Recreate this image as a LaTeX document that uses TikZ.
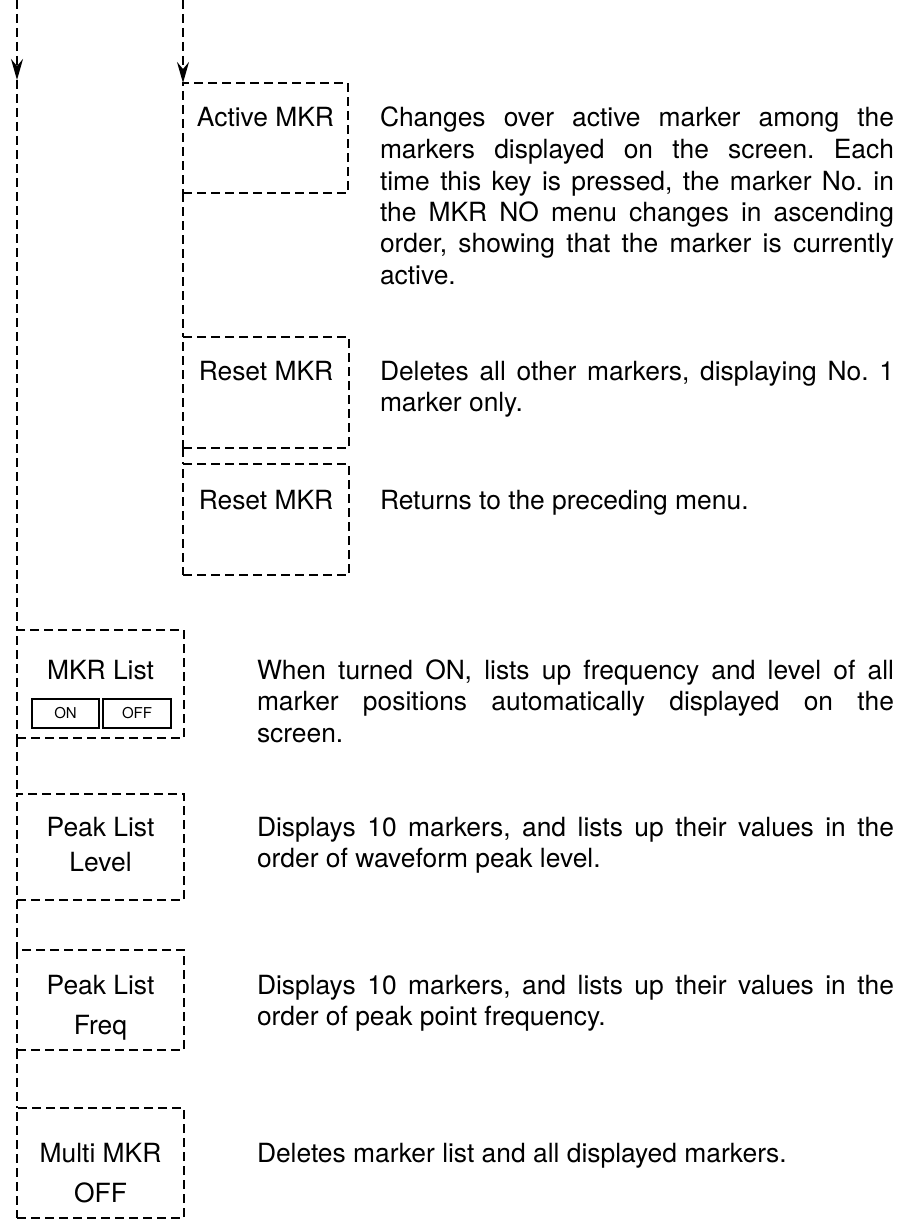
\documentclass[tikz,border=0pt]{standalone}
\usepackage{fontspec}
\setmainfont{TeX Gyre Heros}
\usetikzlibrary{arrows.meta}
\frenchspacing
\tolerance=10000
\hyphenpenalty=10000
\begin{document}
\begin{tikzpicture}[x=1pt,y=-1pt,
  every node/.style={inner sep=0pt, outer sep=0pt},
  dline/.style={line width=1.9pt, dash pattern=on 9pt off 5pt},
  arrowline/.style={dline, -{Stealth[length=21pt,width=12pt,inset=7pt]}},
  menubox/.style={draw, line width=1.9pt, dash pattern=on 9pt off 5pt, rectangle, anchor=north west},
  lbl/.style={anchor=base, font=\fontsize{26.4}{31.5}\selectfont},
  desc/.style={anchor=base west, align=justify, font=\fontsize{26.4}{31.5}\selectfont},
  btn/.style={draw, line width=2.2pt, rectangle, font=\fontsize{15}{18}\selectfont}
]
\path[use as bounding box, fill=white] (0,0) rectangle (906,1220);

% boxes
\node[menubox, minimum width=165pt, minimum height=110pt] (active) at (183,83) {};
\node[menubox, minimum width=166pt, minimum height=111pt] (reset1) at (183,337) {};
\node[menubox, minimum width=166pt, minimum height=111pt] (reset2) at (183,464) {};
\node[menubox, minimum width=167pt, minimum height=108pt] (mkrlist) at (17,630) {};
\node[menubox, minimum width=167pt, minimum height=106pt] (peaklevel) at (17,794) {};
\node[menubox, minimum width=167pt, minimum height=100pt] (peakfreq) at (17,950) {};
\node[menubox, minimum width=167pt, minimum height=110pt] (multi) at (17,1108) {};

% labels
\node[lbl] (activeL) at (265.5,127) {Active MKR};
\node[lbl] (reset1L) at (266,380) {Reset MKR};
\node[lbl] (reset2L) at (266,509) {Reset MKR};
\node[lbl] (mkrlistL) at (100.5,679) {MKR List};
\node[btn, minimum width=67pt, minimum height=29pt] (on) at (65.5,713.5) {ON};
\node[btn, minimum width=68pt, minimum height=29pt] (off) at (137,713.5) {OFF};
\node[lbl] (levelL1) at (100.5,836) {Peak List};
\node[lbl] (levelL2) at (100.5,871) {Level};
\node[lbl] (freqL1) at (100.5,994) {Peak List};
\node[lbl] (freqL2) at (100.5,1034) {Freq};
\node[lbl] (multiL1) at (100.5,1162) {Multi MKR};
\node[lbl] (multiL2) at (100.5,1202) {OFF};

% descriptions
\node[desc, text width=514pt] (activeD) at (380,127) {Changes over active marker among the\linebreak markers displayed on the screen. Each\linebreak time this key is pressed, the marker No. in\linebreak the MKR NO menu changes in ascending\linebreak order, showing that the marker is currently\linebreak active.};
\node[desc, text width=514pt] (reset1D) at (380,380) {Deletes all other markers, displaying No. 1\linebreak marker only.};
\node[desc, text width=514pt] (reset2D) at (380,509) {Returns to the preceding menu.};
\node[desc, text width=637pt] (mkrD) at (257,679) {When turned ON, lists up frequency and level of all\linebreak marker positions automatically displayed on the\linebreak screen.};
\node[desc, text width=637pt] (levelD) at (257,836) {Displays 10 markers, and lists up their values in the\linebreak order of waveform peak level.};
\node[desc, text width=637pt] (freqD) at (257,994) {Displays 10 markers, and lists up their values in the\linebreak order of peak point frequency.};
\node[desc, text width=637pt] (multiD) at (257,1162) {Deletes marker list and all displayed markers.};

% connectors
\coordinate (lt) at (17,0);
\coordinate (la) at (17,80);
\coordinate (rt) at (183,0);
\draw[arrowline] (lt) -- (la);
\draw[dline] (la) -- (mkrlist.north west);
\draw[dline] (mkrlist.south west) -- (peaklevel.north west);
\draw[dline] (peaklevel.south west) -- (peakfreq.north west);
\draw[dline] (peakfreq.south west) -- (multi.north west);
\draw[arrowline] (rt) -- (active.north west);
\draw[dline] (active.south west) -- (reset1.north west);
\draw[dline] (reset1.south west) -- (reset2.north west);
\end{tikzpicture}
\end{document}
